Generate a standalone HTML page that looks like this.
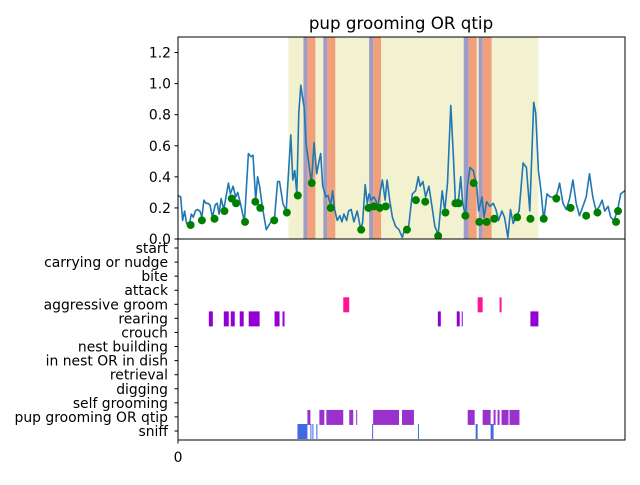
<!DOCTYPE html>
<html><head><meta charset="utf-8"><style>
body{margin:0;background:#fff;}
svg text{font-family:"DejaVu Sans","Liberation Sans",sans-serif;font-size:13.9px;fill:#000;}
</style></head><body>
<svg id="c" width="640" height="480" xmlns="http://www.w3.org/2000/svg">
<defs><clipPath id="topclip"><rect x="178" y="37" width="447" height="202"/></clipPath></defs>
<text x="401" y="29" text-anchor="middle" style="font-size:16.7px">pup grooming OR qtip</text>
<g id="topg" clip-path="url(#topclip)"></g>
<g id="botg"></g>
<rect x="178" y="37" width="447" height="202" fill="none" stroke="#000" stroke-width="1"/>
<rect x="178" y="239" width="447" height="201" fill="none" stroke="#000" stroke-width="1"/>
<g id="axesg"></g>
</svg>
<script>
const xMax = 1347;
const lineX = [0,8,14,20,26,34,40,46,52,58,66,72,78,84,90,96,104,112,118,124,130,138,152,158,166,174,180,188,200,212,220,226,234,240,246,254,266,280,290,300,306,316,326,340,346,352,358,364,370,374,380,386,394,402,410,418,424,430,436,446,452,460,466,472,480,488,494,500,508,514,522,530,540,550,556,564,570,576,582,590,596,602,610,616,624,630,638,646,656,666,676,684,694,706,716,724,730,738,746,756,764,774,784,796,804,812,822,830,836,846,852,858,866,872,880,890,900,906,916,922,930,940,950,958,966,976,984,994,1002,1010,1018,1028,1040,1050,1060,1072,1078,1086,1094,1102,1112,1122,1132,1142,1150,1160,1170,1180,1190,1200,1210,1220,1230,1240,1250,1260,1270,1278,1286,1296,1304,1314,1324,1334,1346];
const lineY = [0.28,0.27,0.12,0.18,0.10,0.09,0.16,0.14,0.18,0.19,0.18,0.14,0.25,0.23,0.23,0.22,0.14,0.22,0.23,0.16,0.26,0.19,0.36,0.29,0.34,0.27,0.30,0.23,0.11,0.55,0.53,0.54,0.25,0.40,0.34,0.21,0.06,0.11,0.11,0.37,0.37,0.23,0.18,0.67,0.38,0.44,0.29,0.81,0.99,0.93,0.85,0.61,0.49,0.36,0.62,0.42,0.49,0.55,0.34,0.27,0.28,0.22,0.31,0.19,0.12,0.15,0.11,0.16,0.12,0.18,0.19,0.11,0.18,0.07,0.10,0.35,0.23,0.29,0.25,0.27,0.25,0.21,0.31,0.38,0.25,0.38,0.25,0.14,0.08,0.06,0.01,0.07,0.06,0.29,0.31,0.40,0.34,0.37,0.27,0.34,0.23,0.08,0.03,0.31,0.18,0.36,0.86,0.53,0.24,0.26,0.40,0.23,0.15,0.34,0.46,0.44,0.34,0.18,0.27,0.14,0.24,0.21,0.23,0.19,0.12,0.18,0.14,0.01,0.19,0.10,0.14,0.18,0.49,0.46,0.18,0.88,0.81,0.44,0.31,0.12,0.29,0.27,0.27,0.29,0.36,0.23,0.19,0.26,0.38,0.23,0.15,0.21,0.27,0.42,0.27,0.18,0.21,0.25,0.18,0.21,0.14,0.12,0.18,0.29,0.31];
const dotX = [38,72,110,140,162,175,202,233,248,290,328,361,403,460,552,574,590,608,626,690,717,745,784,806,836,846,866,891,908,930,953,1022,1062,1102,1140,1183,1230,1264,1320,1326];
const dotY = [0.09,0.12,0.13,0.18,0.26,0.23,0.11,0.24,0.20,0.12,0.17,0.28,0.36,0.20,0.06,0.20,0.21,0.20,0.21,0.06,0.25,0.24,0.02,0.17,0.23,0.23,0.15,0.36,0.11,0.11,0.13,0.14,0.13,0.13,0.26,0.20,0.15,0.17,0.11,0.18];
const yellowSpan = [[333,1086]];
const purpleSpans = [[378,390],[438,450],[576,588],[861,876],[906,918]];
const orangeSpans = [[390,414],[450,474],[588,612],[876,900],[918,945]];
const yTicks = [0.0,0.2,0.4,0.6,0.8,1.0,1.2];
const yTickLabels = ["0.0","0.2","0.4","0.6","0.8","1.0","1.2"];
const behaviors = ["start","carrying or nudge","bite","attack","aggressive groom","rearing","crouch","nest building","in nest OR in dish","retrieval","digging","self grooming","pup grooming OR qtip","sniff"];
const aggressiveBouts = [[498,516],[903,918],[969,975]];
const rearingBouts = [[93,105],[138,153],[159,171],[186,198],[213,246],[291,306],[315,321],[783,792],[840,849],[855,858],[1062,1086]];
const groomBouts = [[390,399],[426,441],[447,498],[516,528],[537,540],[588,666],[675,711],[873,894],[918,942],[951,957],[963,969],[975,996],[999,1029]];
const sniffBouts = [[360,390],[399,402],[405,408],[417,420],[585,588],[723,726],[897,903],[942,951]];

const NS="http://www.w3.org/2000/svg";
const X0=178, W=447;
function xs(v){return X0 + v/xMax*W;}
function ys(v){return 239 - v/1.3*202;}
function rowY(i){return 248 + i*(431-248)/13;}
function mk(parent,tag,attrs){const e=document.createElementNS(NS,tag);for(const k in attrs)e.setAttribute(k,attrs[k]);parent.appendChild(e);return e;}
const topG=document.getElementById('topg'), botG=document.getElementById('botg'), axesG=document.getElementById('axesg');

yellowSpan.forEach(s=>{const r=mk(topG,'rect',{x:xs(s[0]),y:37,width:xs(s[1])-xs(s[0]),height:202,fill:'#f2f2d0'});

});
purpleSpans.forEach(s=>{const r=mk(topG,'rect',{x:xs(s[0]),y:37,width:xs(s[1])-xs(s[0]),height:202,fill:'#a09cc8'});

});
orangeSpans.forEach(s=>{const r=mk(topG,'rect',{x:xs(s[0]),y:37,width:xs(s[1])-xs(s[0]),height:202,fill:'#f0a07a'});

});
const n=Math.min(lineX.length,lineY.length);
let d='';
for(let i=0;i<n;i++){d+=(i?'L':'M')+xs(lineX[i]).toFixed(1)+','+ys(lineY[i]).toFixed(1)+' ';}
const ln=mk(topG,'path',{d:d,fill:'none',stroke:'#1f77b4','stroke-width':1.6,'stroke-linejoin':'round'});


dotX.forEach((x,i)=>{const c=mk(topG,'circle',{cx:xs(x),cy:ys(dotY[i]),r:4,fill:'#008000'});

});

yTicks.forEach((t,i)=>{const y=ys(t);
mk(axesG,'line',{x1:174.5,x2:178,y1:y,y2:y,stroke:'#000'});
const tx=mk(axesG,'text',{x:171,y:y+5,'text-anchor':'end'});tx.textContent=yTickLabels[i];

});
behaviors.forEach((b,i)=>{const y=rowY(i);
mk(axesG,'line',{x1:174.5,x2:178,y1:y,y2:y,stroke:'#000'});
const tx=mk(axesG,'text',{x:168,y:y+5,'text-anchor':'end'});tx.textContent=b;

});
mk(axesG,'line',{x1:178,x2:178,y1:440,y2:443.5,stroke:'#000'});
const x0=mk(axesG,'text',{x:178,y:462,'text-anchor':'middle'});x0.textContent='0';



function bouts(arr,row,color,name){const y=rowY(row);arr.forEach(s=>{
const r=mk(botG,'rect',{x:xs(s[0]),y:y-7,width:Math.max(1,xs(s[1])-xs(s[0])),height:15,fill:color});

});}
bouts(aggressiveBouts,4,'#ff1493','aggressive-groom-bout');
bouts(rearingBouts,5,'#9400d3','rearing-bout');
bouts(groomBouts,12,'#9932cc','pup-grooming-bout');
bouts(sniffBouts,13,'#4169e1','sniff-bout');
</script>
</body></html>
